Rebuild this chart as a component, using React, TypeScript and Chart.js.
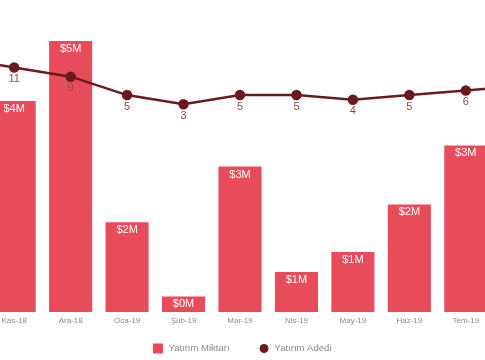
import React, { useEffect, useRef } from "react";
import { Chart, registerables } from "chart.js";

Chart.register(...registerables);

// ---- data ----
const months = ["Eki-18", "Kas-18", "Ara-18", "Oca-19", "Şub-19", "Mar-19", "Nis-19", "May-19", "Haz-19", "Tem-19", "Ağu-19"];
const amountsM: (number | null)[] = [null, 3.9, 5.01, 1.66, 0.29, 2.69, 0.74, 1.11, 1.99, 3.08, null];
const counts = [13, 11, 9, 5, 3, 5, 5, 4, 5, 6, 7];
const barSeriesName = "Yatırım Miktarı";
const lineSeriesName = "Yatırım Adedi";

// ---- styles ----
const BAR_COLOR = "#e84c5a";
const LINE_COLOR = "#6b1a1e";
const COUNT_LABEL_COLOR = "#8d4b50";
const GREY = "#8a8a8a";
const FONT = "'Liberation Sans', Arial, Helvetica, sans-serif";

const VIEW_W = 485;
const CANVAS_W = 634;
const CANVAS_H = 360;
const CANVAS_LEFT = -77;
const LEGEND_CENTER_IN_VIEW = 242.2;

const valueLabelPlugin = {
  id: "valueLabels",
  afterDatasetsDraw(chart: any) {
    const ctx = chart.ctx;
    ctx.save();
    chart.data.datasets.forEach((ds: any, di: number) => {
      const meta = chart.getDatasetMeta(di);
      meta.data.forEach((el: any, i: number) => {
        const v = ds.data[i];
        if (v === null || v === undefined) return;
        ctx.textAlign = "center";
        ctx.textBaseline = "middle";
        if (ds.type === "bar") {
          ctx.font = `11px ${FONT}`;
          ctx.fillStyle = "#ffffff";
          ctx.fillText(`$${Math.round(v)}M`, el.x, el.y + 8);
        } else {
          ctx.font = `11px ${FONT}`;
          ctx.fillStyle = COUNT_LABEL_COLOR;
          ctx.fillText(String(v), el.x, el.y + 11.5);
        }
      });
    });
    ctx.restore();
  },
};

const legendPlugin = {
  id: "customLegend",
  afterDraw(chart: any) {
    const ctx = chart.ctx;
    const y = 348.5;
    const box = 10;
    const gapText = 5.5;
    const itemGap = 29.5;
    ctx.save();
    ctx.font = `9.5px ${FONT}`;
    ctx.textBaseline = "middle";
    ctx.textAlign = "left";
    const items = chart.data.datasets.map((ds: any) => ({
      text: ds.label,
      type: ds.type,
      color: ds.type === "bar" ? ds.backgroundColor : ds.borderColor,
    }));
    const widths = items.map((it: any) => box + gapText + ctx.measureText(it.text).width);
    const total = widths.reduce((a: number, b: number) => a + b, 0) + itemGap * (items.length - 1);
    const center = LEGEND_CENTER_IN_VIEW - CANVAS_LEFT;
    let x = center - total / 2;
    items.forEach((it: any, i: number) => {
      ctx.fillStyle = it.color;
      if (it.type === "bar") {
        ctx.fillRect(x, y - box / 2, box, box);
      } else {
        ctx.beginPath();
        ctx.arc(x + box / 2, y, 4.5, 0, Math.PI * 2);
        ctx.fill();
      }
      ctx.fillStyle = GREY;
      ctx.fillText(it.text, x + box + gapText, y);
      x += widths[i] + itemGap;
    });
    ctx.restore();
  },
};

export default function App() {
  const ref = useRef<HTMLCanvasElement | null>(null);

  useEffect(() => {
    if (!ref.current) return;
    Chart.defaults.font.family = FONT;
    const chart = new Chart(ref.current, {
      data: {
        labels: months,
        datasets: [
          {
            type: "bar",
            label: barSeriesName,
            data: amountsM,
            backgroundColor: BAR_COLOR,
            borderWidth: 0,
            yAxisID: "y",
            categoryPercentage: 1,
            barPercentage: 0.763,
            order: 2,
          } as any,
          {
            type: "line",
            label: lineSeriesName,
            data: counts,
            borderColor: LINE_COLOR,
            backgroundColor: LINE_COLOR,
            pointBackgroundColor: LINE_COLOR,
            pointBorderColor: LINE_COLOR,
            borderWidth: 2.5,
            pointRadius: 4,
            tension: 0,
            fill: false,
            yAxisID: "y2",
            order: 1,
            clip: false,
          } as any,
        ],
      },
      options: {
        responsive: false,
        animation: false,
        devicePixelRatio: 1,
        layout: { padding: { top: 10, bottom: 30.3, left: 0, right: 6 } },
        plugins: {
          legend: { display: false },
          tooltip: { enabled: false },
          title: { display: false },
        },
        scales: {
          x: {
            offset: true,
            grid: { display: false, drawTicks: false },
            border: { display: false },
            ticks: { color: GREY, font: { size: 8, family: FONT }, padding: 4, maxRotation: 0, autoSkip: false },
          },
          y: { display: false, min: 0, max: 5.583 },
          y2: { display: false, min: -42.2, max: 23.5 },
        },
      },
      plugins: [valueLabelPlugin, legendPlugin],
    } as any);
    return () => chart.destroy();
  }, []);

  return (
    <div style={{ position: "fixed", left: 0, top: 0, width: VIEW_W, height: CANVAS_H, overflow: "hidden", background: "#fff" }}>
      <canvas
        ref={ref}
        width={CANVAS_W}
        height={CANVAS_H}
        style={{ position: "absolute", left: CANVAS_LEFT, top: 0, width: CANVAS_W, height: CANVAS_H }}
      />
    </div>
  );
}
